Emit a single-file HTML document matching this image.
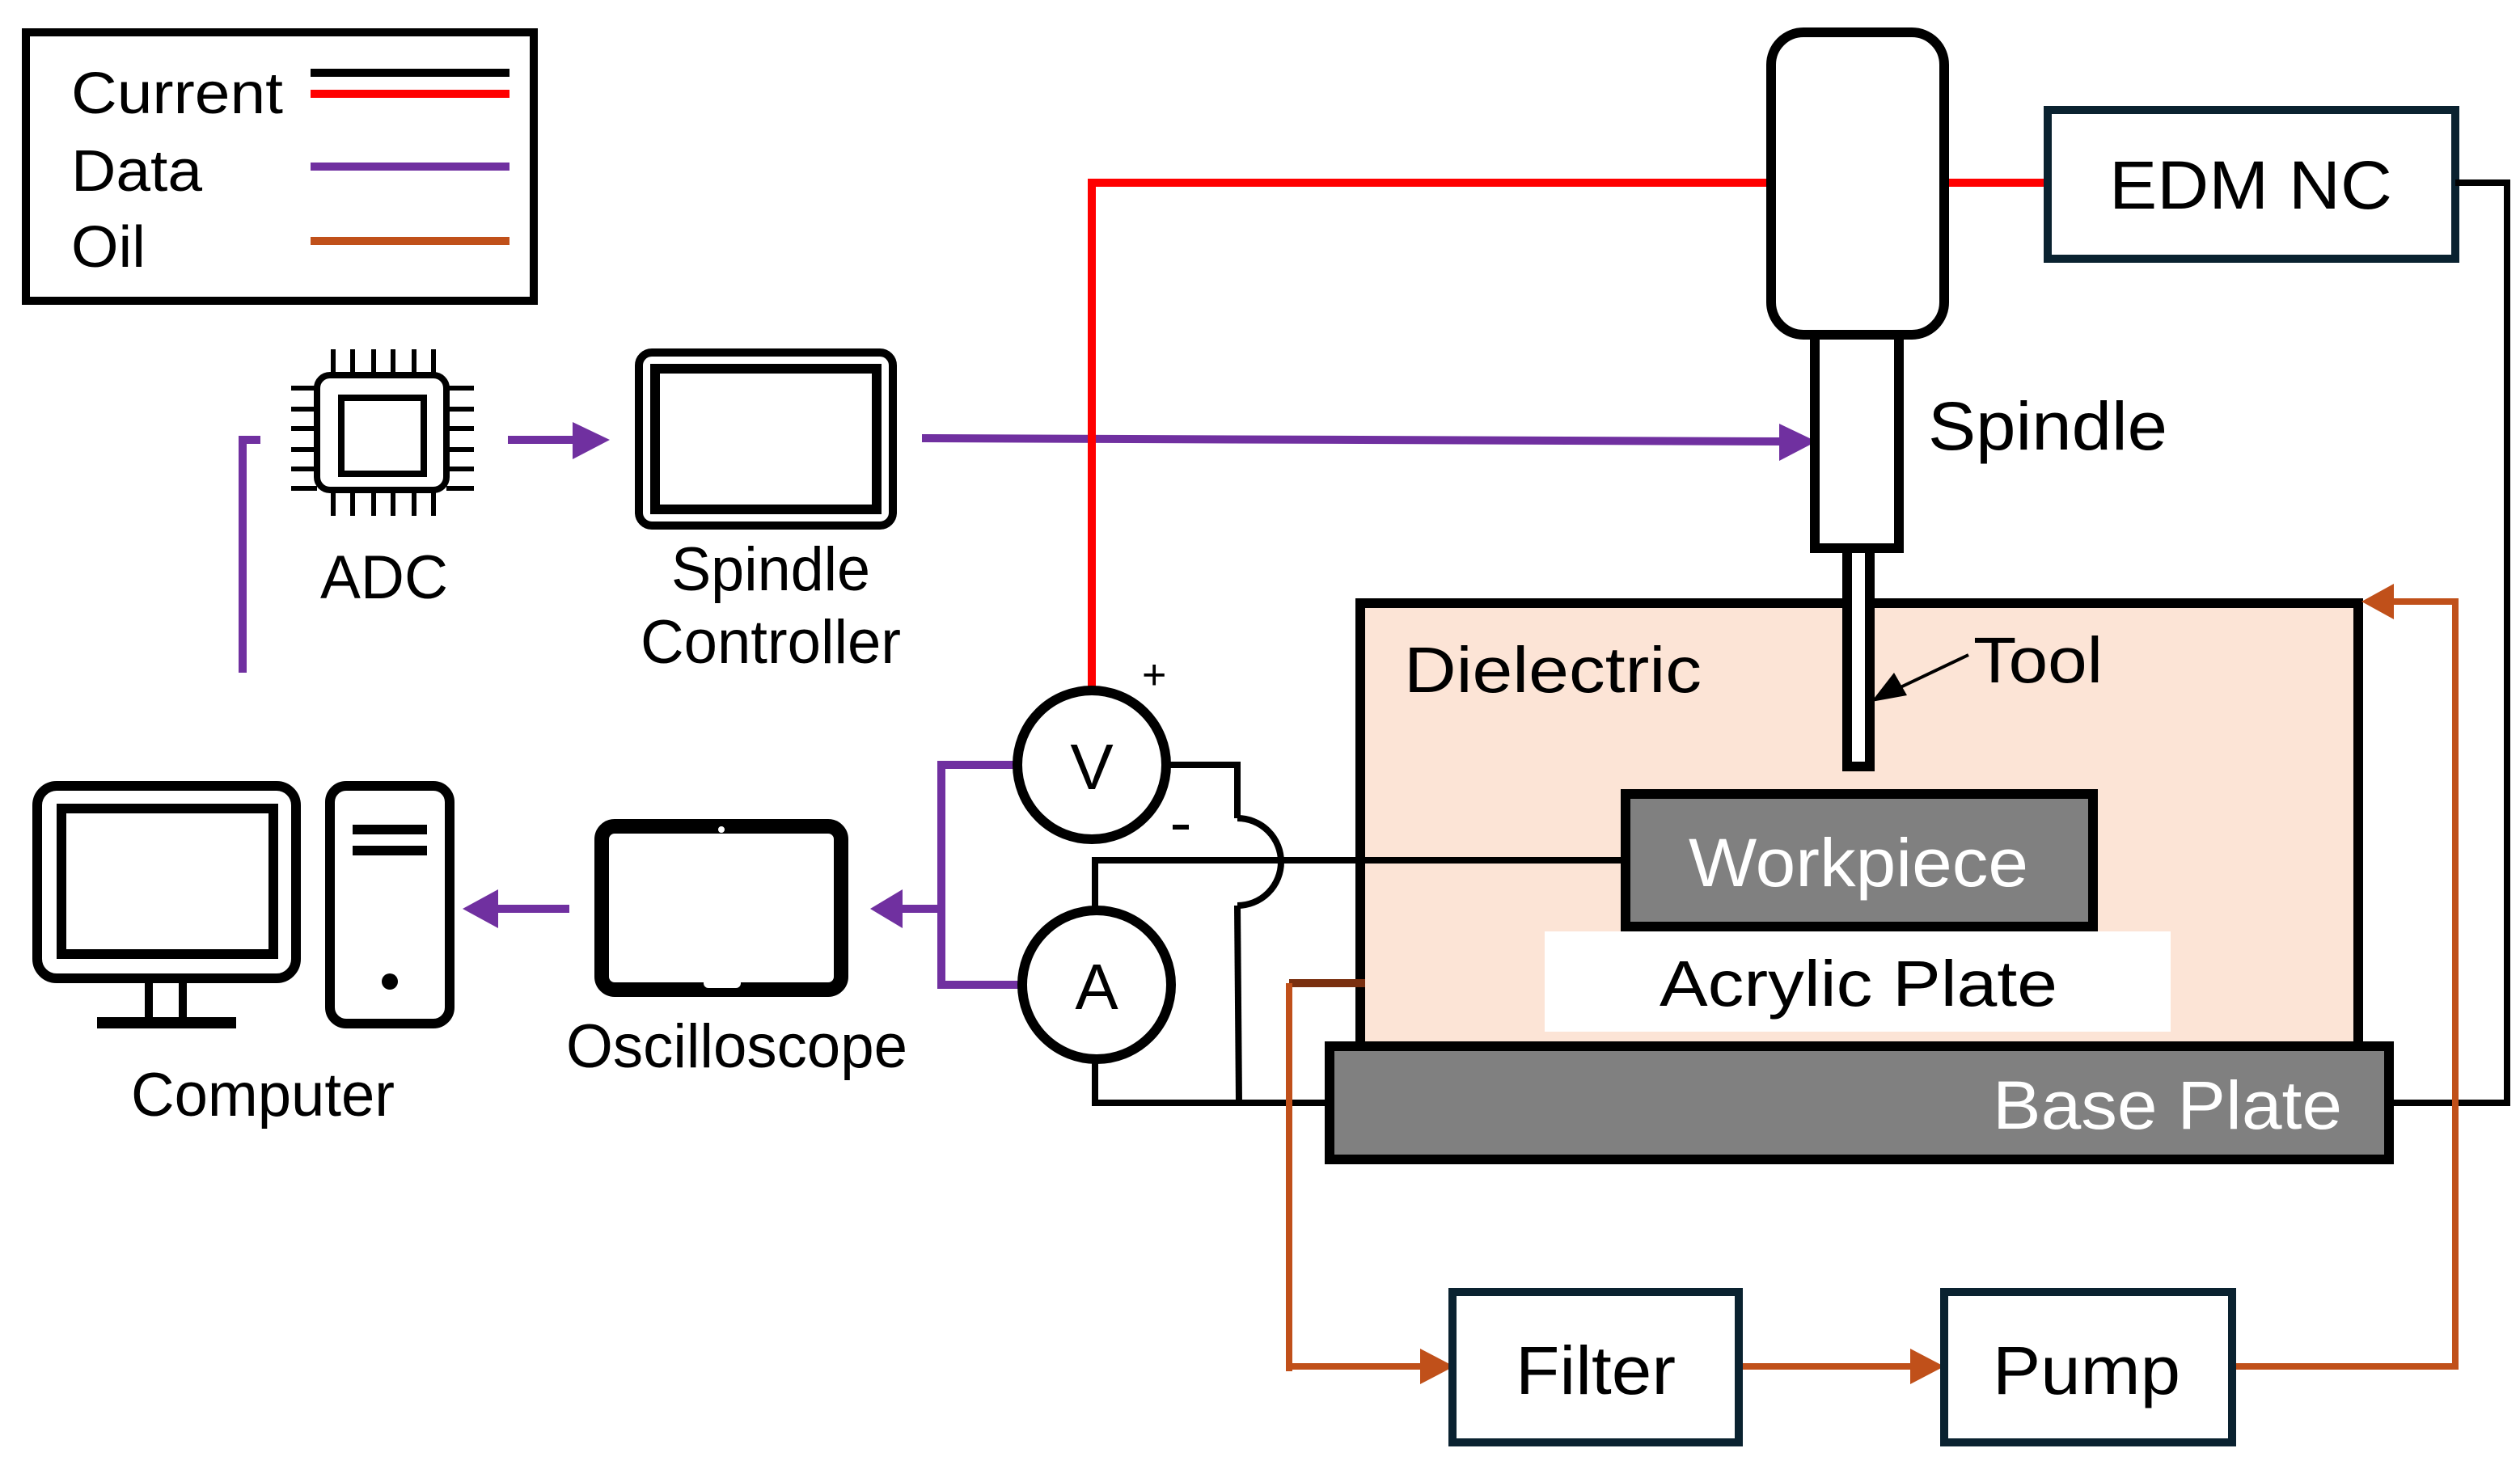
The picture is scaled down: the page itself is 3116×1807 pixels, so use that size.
<!DOCTYPE html>
<html><head><meta charset="utf-8"><style>html,body{margin:0;padding:0;background:#fff}svg{display:block}text{font-family:"Liberation Sans",Arial,sans-serif;fill:#000}</style></head><body>
<svg width="3116" height="1807" viewBox="0 0 1558 903.5" xmlns="http://www.w3.org/2000/svg">
<rect width="1558" height="903.5" fill="#fff"/>
<!-- legend -->
<rect x="16" y="20" width="314" height="166" fill="#fff" stroke="#000" stroke-width="5"/>
<text x="44" y="70" font-size="36" textLength="131" lengthAdjust="spacingAndGlyphs">Current</text>
<text x="44" y="118" font-size="36" textLength="81" lengthAdjust="spacingAndGlyphs">Data</text>
<text x="44" y="165" font-size="36" textLength="46" lengthAdjust="spacingAndGlyphs">Oil</text>
<line x1="192" y1="45" x2="315" y2="45" stroke="#000" stroke-width="5"/>
<line x1="192" y1="58" x2="315" y2="58" stroke="#f00" stroke-width="5"/>
<line x1="192" y1="103" x2="315" y2="103" stroke="#7030a0" stroke-width="5"/>
<line x1="192" y1="149" x2="315" y2="149" stroke="#c0501a" stroke-width="5"/>

<!-- ADC chip -->
<rect x="196" y="232" width="80" height="71" rx="8" fill="#fff" stroke="#000" stroke-width="4"/>
<rect x="211" y="246" width="51" height="47" fill="none" stroke="#000" stroke-width="4"/>
<g stroke="#000" stroke-width="3">
<line x1="206" y1="216" x2="206" y2="232"/><line x1="218" y1="216" x2="218" y2="232"/><line x1="231" y1="216" x2="231" y2="232"/><line x1="243" y1="216" x2="243" y2="232"/><line x1="256" y1="216" x2="256" y2="232"/><line x1="268" y1="216" x2="268" y2="232"/>
<line x1="206" y1="303" x2="206" y2="319"/><line x1="218" y1="303" x2="218" y2="319"/><line x1="231" y1="303" x2="231" y2="319"/><line x1="243" y1="303" x2="243" y2="319"/><line x1="256" y1="303" x2="256" y2="319"/><line x1="268" y1="303" x2="268" y2="319"/>
<line x1="180" y1="240" x2="196" y2="240"/><line x1="180" y1="253" x2="196" y2="253"/><line x1="180" y1="265" x2="196" y2="265"/><line x1="180" y1="278" x2="196" y2="278"/><line x1="180" y1="290" x2="196" y2="290"/><line x1="180" y1="302" x2="196" y2="302"/>
<line x1="276" y1="240" x2="293" y2="240"/><line x1="276" y1="253" x2="293" y2="253"/><line x1="276" y1="265" x2="293" y2="265"/><line x1="276" y1="278" x2="293" y2="278"/><line x1="276" y1="290" x2="293" y2="290"/><line x1="276" y1="302" x2="293" y2="302"/>
</g>
<text x="198" y="370" font-size="38" textLength="79" lengthAdjust="spacingAndGlyphs">ADC</text>

<!-- spindle controller -->
<rect x="395" y="218" width="157" height="107" rx="8" fill="#fff" stroke="#000" stroke-width="5"/>
<rect x="405" y="228" width="137" height="87" fill="none" stroke="#000" stroke-width="6"/>
<text x="415" y="365" font-size="38" textLength="123" lengthAdjust="spacingAndGlyphs">Spindle</text>
<text x="396" y="410" font-size="38" textLength="161" lengthAdjust="spacingAndGlyphs">Controller</text>

<!-- purple data lines -->
<g stroke="#7030a0" stroke-width="5" fill="none">
<polyline points="150,416 150,272 161,272"/>
<line x1="314" y1="272" x2="356" y2="272"/>
<line x1="570" y1="271" x2="1102" y2="273"/>
<polyline points="628,473 582,473 582,609 630,609"/>
<line x1="556" y1="562" x2="582" y2="562"/>
<line x1="306" y1="562" x2="352" y2="562"/>
</g>
<g fill="#7030a0">
<polygon points="354,261 377,272 354,284"/>
<polygon points="1100,262 1123,273 1100,285"/>
<polygon points="558,550 538,562 558,574"/>
<polygon points="308,550 286,562 308,574"/>
</g>

<!-- computer -->
<rect x="23" y="486" width="160" height="119" rx="12" fill="#fff" stroke="#000" stroke-width="6"/>
<rect x="38" y="500" width="131" height="90" fill="none" stroke="#000" stroke-width="6"/>
<rect x="92" y="605" width="21" height="27" fill="none" stroke="#000" stroke-width="5"/>
<rect x="60" y="629" width="86" height="7" fill="#000"/>
<rect x="204" y="486" width="74" height="147" rx="10" fill="#fff" stroke="#000" stroke-width="6"/>
<rect x="218" y="510" width="46" height="6" fill="#000"/>
<rect x="218" y="523" width="46" height="6" fill="#000"/>
<ellipse cx="241" cy="607" rx="5" ry="5" fill="#000"/>
<text x="81" y="690" font-size="38" textLength="163" lengthAdjust="spacingAndGlyphs">Computer</text>

<!-- oscilloscope -->
<rect x="372" y="511" width="148" height="101" rx="8" fill="#fff" stroke="#000" stroke-width="9"/>
<circle cx="446" cy="513" r="2" fill="#fff"/>
<rect x="435" y="605" width="23" height="6" rx="3" fill="#fff"/>
<text x="350" y="660" font-size="38" textLength="211" lengthAdjust="spacingAndGlyphs">Oscilloscope</text>

<!-- red lines -->
<polyline points="675,425 675,113 1095,113" stroke="#f00" stroke-width="5" fill="none"/>
<line x1="1201" y1="113" x2="1266" y2="113" stroke="#f00" stroke-width="5"/>

<!-- EDM NC -->
<rect x="1266" y="68" width="252" height="92" fill="#fff" stroke="#0a2230" stroke-width="5"/>
<text x="1304" y="129" font-size="42" textLength="175" lengthAdjust="spacingAndGlyphs">EDM NC</text>
<polyline points="1518,113 1550,113 1550,682 1478,682" stroke="#000" stroke-width="4" fill="none"/>

<!-- dielectric tank -->
<rect x="841" y="373" width="617" height="274" fill="#fce4d6" stroke="#000" stroke-width="6"/>
<text x="868" y="428" font-size="40" textLength="184" lengthAdjust="spacingAndGlyphs">Dielectric</text>

<!-- spindle -->
<rect x="1095" y="20" width="107" height="187" rx="20" fill="#fff" stroke="#000" stroke-width="6"/>
<rect x="1122" y="207" width="52" height="132" fill="#fff" stroke="#000" stroke-width="6"/>
<rect x="1142" y="339" width="14" height="135" fill="#fff" stroke="#000" stroke-width="6"/>
<text x="1192" y="278" font-size="42" textLength="148" lengthAdjust="spacingAndGlyphs">Spindle</text>
<text x="1220" y="422" font-size="40" textLength="80" lengthAdjust="spacingAndGlyphs">Tool</text>
<line x1="1217" y1="405" x2="1175" y2="425" stroke="#000" stroke-width="2"/>
<polygon points="1157,434 1171,416 1179,430" fill="#000"/>

<!-- workpiece, acrylic -->
<rect x="1005" y="491" width="289" height="82" fill="#808080" stroke="#000" stroke-width="6"/>
<text x="1044" y="548" font-size="42" fill="#fff" style="fill:#fff" textLength="210" lengthAdjust="spacingAndGlyphs">Workpiece</text>
<rect x="955" y="576" width="387" height="62" fill="#fff"/>
<text x="1026" y="622" font-size="40" textLength="246" lengthAdjust="spacingAndGlyphs">Acrylic Plate</text>

<!-- base plate -->
<rect x="822" y="647" width="655" height="70" fill="#808080" stroke="#000" stroke-width="6"/>
<text x="1232" y="698" font-size="42" style="fill:#fff" textLength="216" lengthAdjust="spacingAndGlyphs">Base Plate</text>

<!-- black circuit wires -->
<g stroke="#000" stroke-width="4" fill="none">
<polyline points="1005,532 677,532 677,562"/>
<polyline points="721,473 765,473 765,506"/>
<path d="M765,506 A27,27 0 0 1 765,560"/>
<polyline points="765,560 766,682"/>
<polyline points="677,656 677,682 822,682"/>
</g>
<circle cx="675" cy="473" r="46" fill="#fff" stroke="#000" stroke-width="6"/>
<circle cx="678" cy="609" r="46" fill="#fff" stroke="#000" stroke-width="6"/>
<text x="675" y="488" font-size="40" text-anchor="middle">V</text>
<text x="678" y="624" font-size="40" text-anchor="middle">A</text>
<text x="706" y="426" font-size="26">+</text>
<rect x="725" y="510" width="10" height="3" fill="#000"/>

<!-- oil -->
<g stroke="#c0501a" stroke-width="4" fill="none">
<polyline points="797,908 797,608"/>
<polyline points="797,845 880,845"/>
<line x1="1075" y1="845" x2="1183" y2="845"/>
<polyline points="1380,845 1518,845 1518,372 1478,372"/>
</g>
<polyline points="797,608 844,608" stroke="#7a3010" stroke-width="5" fill="none"/>
<rect x="791" y="848" width="12" height="60" fill="#fff"/>
<polyline points="797,608 797,845" stroke="#c0501a" stroke-width="4" fill="none"/>
<g fill="#c0501a">
<polygon points="878,834 899,845 878,856"/>
<polygon points="1181,834 1202,845 1181,856"/>
<polygon points="1480,361 1460,372 1480,383"/>
</g>
<rect x="898" y="799" width="177" height="93" fill="#fff" stroke="#0a2230" stroke-width="5"/>
<text x="937" y="862" font-size="42" textLength="99" lengthAdjust="spacingAndGlyphs">Filter</text>
<rect x="1202" y="799" width="178" height="93" fill="#fff" stroke="#0a2230" stroke-width="5"/>
<text x="1232" y="862" font-size="42" textLength="116" lengthAdjust="spacingAndGlyphs">Pump</text>
</svg>
</body></html>
